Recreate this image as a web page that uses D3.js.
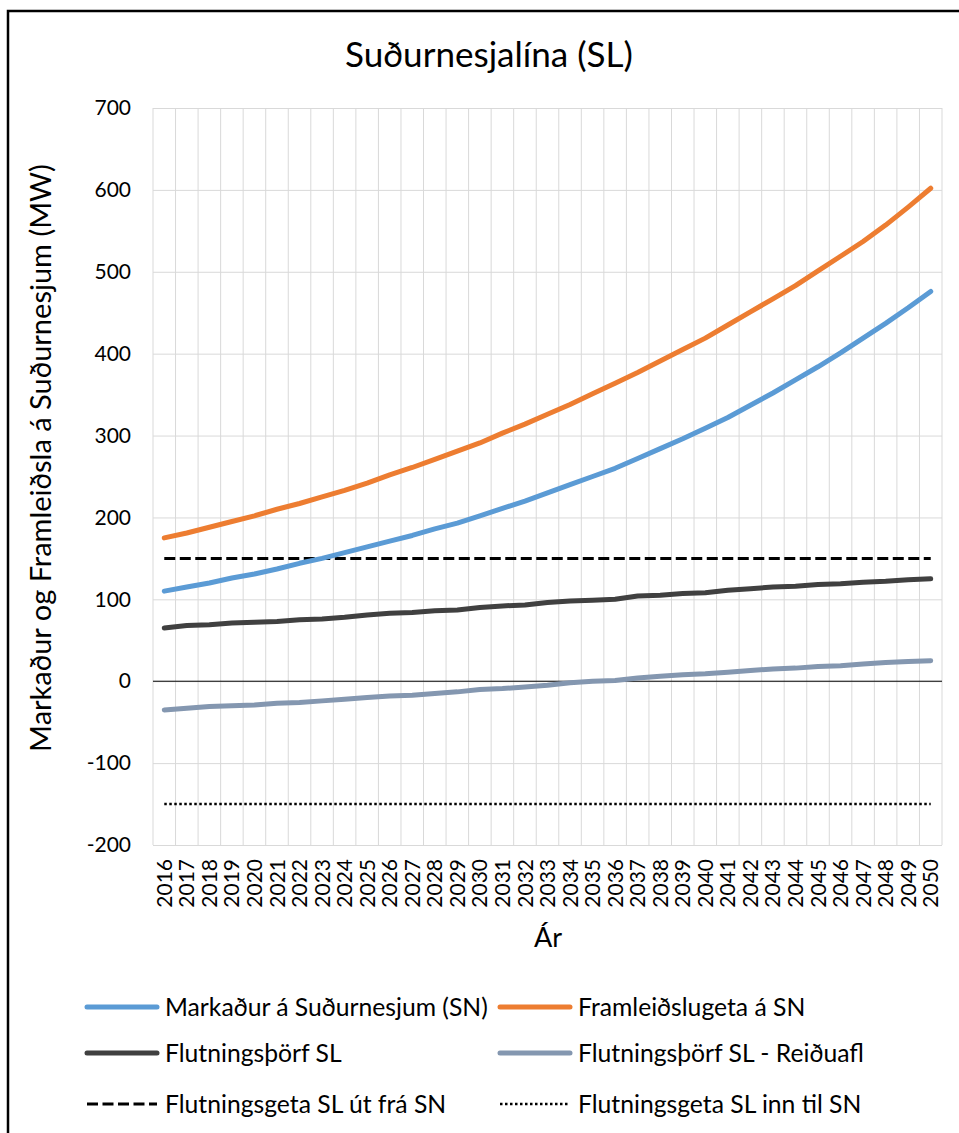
<!DOCTYPE html>
<html>
<head>
<meta charset="utf-8">
<script src="https://cdn.jsdelivr.net/npm/d3@7"></script>
<style>
  body { margin: 0; background: #fff; }
  svg { display: block; }
  text { font-family: Lato, "Open Sans", sans-serif; fill: #000; }
</style>
</head>
<body>
<div id="chart"></div>
<script>
// data (MW)
const years = ["2016","2017","2018","2019","2020","2021","2022","2023","2024","2025",
  "2026","2027","2028","2029","2030","2031","2032","2033","2034","2035",
  "2036","2037","2038","2039","2040","2041","2042","2043","2044","2045",
  "2046","2047","2048","2049","2050"];

const markadur = [110,115,120,126,131,137,144,150,157,164,
  171,178,186,193,202,211,220,230,240,250,
  260,272,284,296,309,322,337,352,368,384,
  401,419,437,456,476];

const framleidslugeta = [175,181,188,195,202,210,217,225,233,242,
  252,261,271,281,291,303,314,326,338,351,
  364,377,391,405,419,435,451,467,483,501,
  519,537,557,579,602];

const flutningsthorf = [65,68,69,71,72,73,75,76,78,81,
  83,84,86,87,90,92,93,96,98,99,
  100,104,105,107,108,111,113,115,116,118,
  119,121,122,124,125];

const reiduafl = [-35,-33,-31,-30,-29,-27,-26,-24,-22,-20,
  -18,-17,-15,-13,-10,-9,-7,-5,-2,0,
  1,4,6,8,9,11,13,15,16,18,
  19,21,23,24,25];

const getaUt = 150;
const getaInn = -150;

const yTicks = [-200,-100,0,100,200,300,400,500,600,700];

const seriesNames = ["Markaður á Suðurnesjum (SN)", "Framleiðslugeta á SN",
  "Flutningsþörf SL", "Flutningsþörf SL - Reiðuafl",
  "Flutningsgeta SL út frá SN", "Flutningsgeta SL inn til SN"];

const width = 959, height = 1133;
const margin = {top:108, right:17, bottom:288, left:153};

const svg = d3.select("#chart").append("svg")
    .attr("width", width)
    .attr("height", height);

// outer frame
svg.append("rect")
    .attr("x", 8).attr("y", 11)
    .attr("width", 1000).attr("height", 1200)
    .attr("fill", "none")
    .attr("stroke", "#000")
    .attr("stroke-width", 2.5);

const x = d3.scaleBand()
    .domain(years)
    .range([margin.left, width - margin.right]);

const y = d3.scaleLinear()
    .domain([-200, 700])
    .range([height - margin.bottom, margin.top]);

const cx = d => x(d) + x.bandwidth()/2;

function fit(sel, w){
    const len = sel.node().getComputedTextLength();
    const fs = parseFloat(sel.style("font-size"));
    sel.style("font-size", (fs * w / len) + "px");
}

// horizontal grid + y labels
const yAxis = svg.append("g")
    .attr("transform", `translate(${margin.left},0)`)
    .call(d3.axisLeft(y).tickValues(yTicks)
        .tickFormat(d => String(d))
        .tickSize(-(width - margin.left - margin.right))
        .tickPadding(22));
yAxis.select(".domain").remove();
yAxis.selectAll(".tick line").attr("stroke", "#d9d9d9").attr("stroke-width", 1);
yAxis.selectAll(".tick text").style("font-size", "21px").attr("fill", "#000");

// vertical grid at category boundaries
svg.append("g").selectAll("line")
    .data(years.concat(["end"]))
    .join("line")
    .attr("x1", d => d === "end" ? x.range()[1] : x(d))
    .attr("x2", d => d === "end" ? x.range()[1] : x(d))
    .attr("y1", y(700))
    .attr("y2", y(-200))
    .attr("stroke", "#d9d9d9")
    .attr("stroke-width", 1);

// zero line
svg.append("line")
    .attr("x1", x.range()[0]).attr("x2", x.range()[1])
    .attr("y1", y(0)).attr("y2", y(0))
    .attr("stroke", "#000").attr("stroke-width", 1);

// x labels
const xAxis = svg.append("g")
    .attr("transform", `translate(0,${y(-200)})`)
    .call(d3.axisBottom(x).tickSize(0).tickPadding(0));
xAxis.select(".domain").remove();
xAxis.selectAll(".tick text")
    .style("font-size", "21px")
    .attr("fill", "#000")
    .attr("text-anchor", "end")
    .attr("transform", "rotate(-90)")
    .attr("x", -14)
    .attr("y", 0)
    .attr("dy", "0.36em");

const line = d3.line()
    .x((d, i) => cx(years[i]))
    .y(d => y(d));

const lines = [
    {values: markadur, color: "#5b9bd5"},
    {values: framleidslugeta, color: "#ed7d31"},
    {values: flutningsthorf, color: "#404040"},
    {values: reiduafl, color: "#8497b0"}
];

// capacity lines
svg.append("line")
    .attr("x1", cx(years[0])).attr("x2", cx(years[years.length-1]))
    .attr("y1", y(getaUt)).attr("y2", y(getaUt))
    .attr("stroke", "#000").attr("stroke-width", 3)
    .attr("stroke-dasharray", "11,4.5");

svg.append("line")
    .attr("x1", cx(years[0])).attr("x2", cx(years[years.length-1]))
    .attr("y1", y(getaInn)).attr("y2", y(getaInn))
    .attr("stroke", "#000").attr("stroke-width", 2.5)
    .attr("stroke-dasharray", "2.5,2.5");

svg.append("g").selectAll("path")
    .data(lines)
    .join("path")
    .attr("d", d => line(d.values))
    .attr("fill", "none")
    .attr("stroke", d => d.color)
    .attr("stroke-width", 5)
    .attr("stroke-linecap", "round")
    .attr("stroke-linejoin", "round");

// title
const title = svg.append("text")
    .attr("x", 489).attr("y", 67)
    .attr("text-anchor", "middle")
    .style("font-size", "34px")
    .text("Suðurnesjalína (SL)");
fit(title, 288);

// axis titles
const yTitle = svg.append("text")
    .attr("transform", "translate(51,458) rotate(-90)")
    .attr("text-anchor", "middle")
    .style("font-size", "27px")
    .text("Markaður og Framleiðsla á Suðurnesjum (MW)");
fit(yTitle, 588);

svg.append("text")
    .attr("x", 548).attr("y", 947)
    .attr("text-anchor", "middle")
    .style("font-size", "27px")
    .text("Ár");

// legend
const legendItems = [
    {name: seriesNames[0], color: "#5b9bd5", w: 5, dash: null, col: 0, row: 0},
    {name: seriesNames[1], color: "#ed7d31", w: 5, dash: null, col: 1, row: 0},
    {name: seriesNames[2], color: "#404040", w: 5, dash: null, col: 0, row: 1},
    {name: seriesNames[3], color: "#8497b0", w: 5, dash: null, col: 1, row: 1},
    {name: seriesNames[4], color: "#000", w: 3, dash: "11,4.5", col: 0, row: 2},
    {name: seriesNames[5], color: "#000", w: 2.5, dash: "2.5,2.5", col: 1, row: 2}
];
const colX = [87, 500];
const rowY = [1007, 1053, 1104];

const leg = svg.append("g").selectAll("g")
    .data(legendItems)
    .join("g")
    .attr("transform", d => `translate(${colX[d.col]},${rowY[d.row]})`);

leg.append("line")
    .attr("x1", 0).attr("x2", 70)
    .attr("stroke", d => d.color)
    .attr("stroke-width", d => d.w)
    .attr("stroke-dasharray", d => d.dash)
    .attr("stroke-linecap", d => d.dash ? "butt" : "round");

const legText = leg.append("text")
    .attr("x", 78)
    .attr("dy", "0.35em")
    .style("font-size", "24px")
    .text(d => d.name);

fit(d3.select(legText.nodes()[0]), 323);
legText.style("font-size", d3.select(legText.nodes()[0]).style("font-size"));
</script>
</body>
</html>
